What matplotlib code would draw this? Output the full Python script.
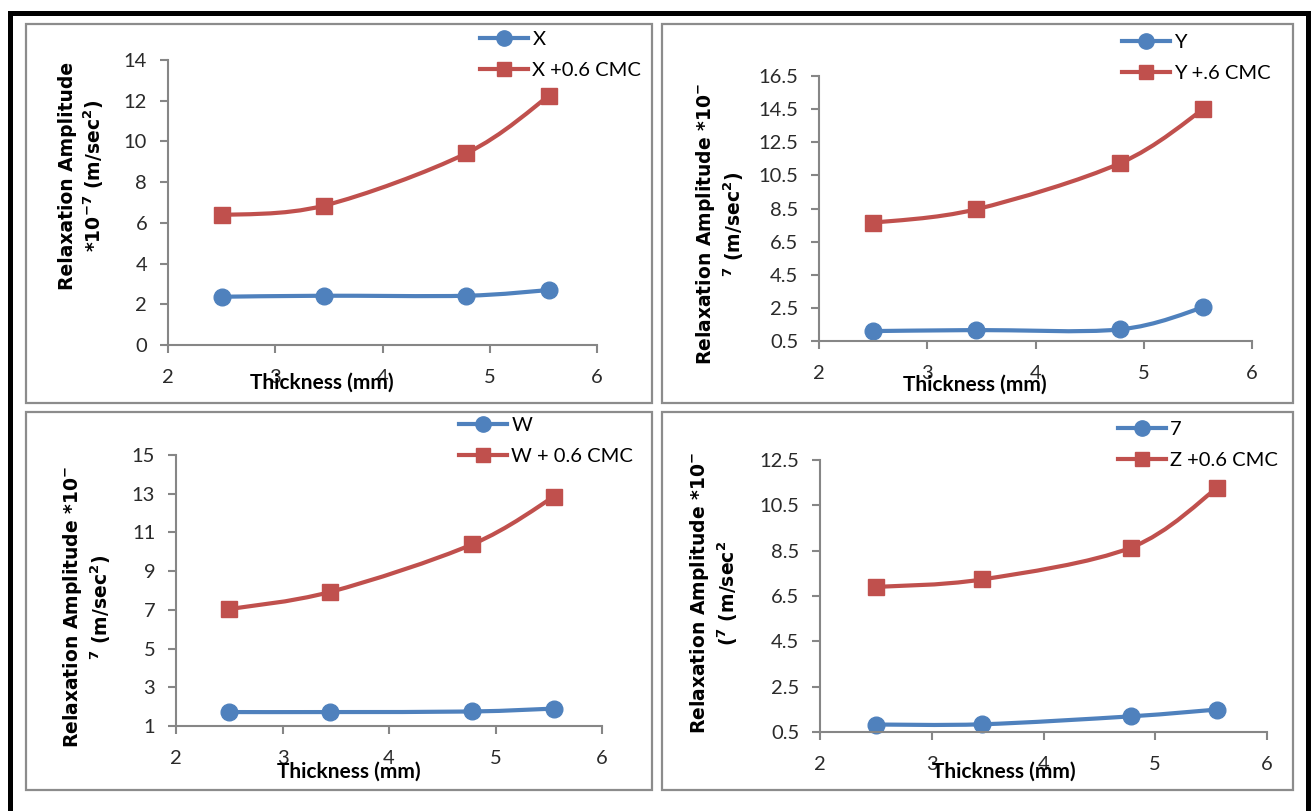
import numpy as np
import matplotlib
matplotlib.use('Agg')
from matplotlib import pyplot as plt
from matplotlib.path import Path
from matplotlib.patches import PathPatch, Rectangle
from matplotlib.lines import Line2D

plt.rcParams['font.family'] = ['Lato', 'DejaVu Sans']

# thickness (mm) of the four samples
thickness = [2.5, 3.45, 4.78, 5.55]

x_plain = [2.37, 2.42, 2.42, 2.70]
x_cmc = [6.38, 6.84, 9.41, 12.23]
y_plain = [1.10, 1.16, 1.20, 2.53]
y_cmc = [7.64, 8.45, 11.23, 14.49]
w_plain = [1.72, 1.72, 1.75, 1.90]
w_cmc = [7.04, 7.93, 10.38, 12.85]
z_plain = [0.83, 0.84, 1.19, 1.49]
z_cmc = [6.90, 7.23, 8.63, 11.25]

x_names = ['X', 'X +0.6 CMC']
y_names = ['Y', 'Y +.6 CMC']
w_names = ['W', 'W + 0.6 CMC']
z_names = ['7', 'Z +0.6 CMC']

x_yticks = [0, 2, 4, 6, 8, 10, 12, 14]
y_yticks = [0.5, 2.5, 4.5, 6.5, 8.5, 10.5, 12.5, 14.5, 16.5]
w_yticks = [1, 3, 5, 7, 9, 11, 13, 15]
z_yticks = [0.5, 2.5, 4.5, 6.5, 8.5, 10.5, 12.5]
xticks = [2, 3, 4, 5, 6]

x_ylabel = 'Relaxation Amplitude\n*10$^{\\mathbf{-7}}$ (m/sec$^{\\mathbf{2}}$)'
y_ylabel = 'Relaxation Amplitude *10$^{\\mathbf{-}}$\n$^{\\mathbf{7}}$ (m/sec$^{\\mathbf{2}}$)'
w_ylabel = 'Relaxation Amplitude *10$^{\\mathbf{-}}$\n$^{\\mathbf{7}}$ (m/sec$^{\\mathbf{2}}$)'
z_ylabel = 'Relaxation Amplitude *10$^{\\mathbf{-}}$\n($^{\\mathbf{7}}$ (m/sec$^{\\mathbf{2}}$'

BLUE = '#4f81bd'
RED = '#c0504d'
GRAY = '#868686'

W, H = 1315, 811
fig = plt.figure(figsize=(W / 100, H / 100), dpi=100)


def fx(px):
    return px / W


def fy(py):
    return 1 - py / H


def smooth_path(xs, ys):
    # excel style smoothed line: bezier segments through the points
    pts = np.column_stack([xs, ys])
    n = len(pts)
    verts = [pts[0]]
    codes = [Path.MOVETO]
    for i in range(n - 1):
        p0 = pts[max(i - 1, 0)]
        p1 = pts[i]
        p2 = pts[i + 1]
        p3 = pts[min(i + 2, n - 1)]
        verts += [p1 + (p2 - p0) / 6, p2 - (p3 - p1) / 6, p2]
        codes += [Path.CURVE4] * 3
    return Path(verts, codes)


# pixel layout: box, axes (left, right, top, bottom), ylabel centre, xlabel centre, legend (left, mid y)
panels = [
    dict(box=(26, 652, 24, 403), ax=(168, 597, 60, 345), ylab=(82, 176), xlab=(322, 383), leg=(480, 55),
         plain=x_plain, cmc=x_cmc, names=x_names, yticks=x_yticks, ylabel=x_ylabel, fmt='{:g}'),
    dict(box=(662, 1293, 24, 403), ax=(819, 1252, 76, 341), ylab=(720, 224), xlab=(975, 385), leg=(1122, 58),
         plain=y_plain, cmc=y_cmc, names=y_names, yticks=y_yticks, ylabel=y_ylabel, fmt='{:.1f}'),
    dict(box=(26, 652, 412, 790), ax=(176, 602, 455, 726), ylab=(87, 607), xlab=(349, 772), leg=(459, 441),
         plain=w_plain, cmc=w_cmc, names=w_names, yticks=w_yticks, ylabel=w_ylabel, fmt='{:g}'),
    dict(box=(662, 1293, 412, 790), ax=(820, 1267, 460, 732), ylab=(714, 593), xlab=(1004, 772), leg=(1118, 445),
         plain=z_plain, cmc=z_cmc, names=z_names, yticks=z_yticks, ylabel=z_ylabel, fmt='{:.1f}'),
]

# outer black frame
fig.patches.append(Rectangle((fx(10), -0.05), fx(1298), fy(13.5) + 0.05, transform=fig.transFigure,
                             fill=False, edgecolor='black', lw=3.6, clip_on=False))

for p in panels:
    bl, br, bt, bb = p['box']
    fig.patches.append(Rectangle((fx(bl), fy(bb)), fx(br - bl), (bb - bt) / H, transform=fig.transFigure,
                                 fill=False, edgecolor='#8c8c8c', lw=1.6))

    l, r, t, b = p['ax']
    ax = fig.add_axes([fx(l), fy(b), fx(r - l), (b - t) / H])
    ax.patch.set_alpha(0)
    ax.set_xlim(2, 6)
    ax.set_ylim(p['yticks'][0], p['yticks'][-1])
    ax.set_xticks(xticks)
    ax.set_yticks(p['yticks'])
    ax.set_yticklabels([p['fmt'].format(v) for v in p['yticks']])
    for s in ['top', 'right']:
        ax.spines[s].set_visible(False)
    for s in ['left', 'bottom']:
        ax.spines[s].set_color(GRAY)
        ax.spines[s].set_linewidth(1.5)
    ax.tick_params(direction='out', length=6, width=1.5, color=GRAY, labelsize=14.5, labelcolor='#2a2a2a')
    ax.tick_params(axis='x', pad=11)
    ax.tick_params(axis='y', pad=9)

    for vals, col, mk, ms in [(p['plain'], BLUE, 'o', 12), (p['cmc'], RED, 's', 11)]:
        ax.add_patch(PathPatch(smooth_path(thickness, vals), fill=False, edgecolor=col, lw=3,
                               capstyle='round', joinstyle='round'))
        ax.plot(thickness, vals, linestyle='none', marker=mk, ms=ms, color=col, clip_on=False)

    handles = [Line2D([], [], color=BLUE, lw=3, marker='o', ms=11),
               Line2D([], [], color=RED, lw=3, marker='s', ms=10)]
    lx, ly = p['leg']
    ax.legend(handles, p['names'], loc='center left', bbox_to_anchor=(fx(lx), fy(ly)),
              bbox_transform=fig.transFigure, frameon=False, fontsize=14.5, handlelength=2.4,
              handletextpad=0.2, labelspacing=0.7, borderpad=0, borderaxespad=0)

    yx, yy = p['ylab']
    fig.text(fx(yx), fy(yy), p['ylabel'], rotation=90, ha='center', va='center', multialignment='center',
             family='DejaVu Sans', fontweight='bold', fontsize=13.5, color='black', linespacing=1.25)
    xx, xy = p['xlab']
    fig.text(fx(xx), fy(xy), 'Thickness (mm)', ha='center', va='center', fontweight='bold', fontsize=15,
             color='black')

fig.savefig('out.png', dpi=100)
